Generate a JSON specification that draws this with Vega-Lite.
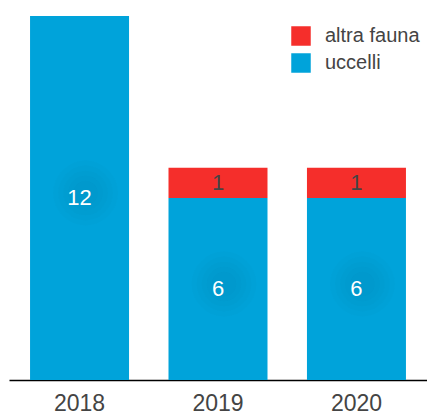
{
  "$schema": "https://vega.github.io/schema/vega-lite/v6.json",
  "width": 418,
  "height": 364,
  "autosize": {"type": "none"},
  "padding": {"left": 9, "top": 16, "right": 0, "bottom": 34},
  "background": "white",
  "config": {
    "view": {"stroke": null},
    "font": "Liberation Sans"
  },
  "data": {
    "values": [
      {"year": "2018", "category": "uccelli", "value": 12},
      {"year": "2019", "category": "uccelli", "value": 6},
      {"year": "2019", "category": "altra fauna", "value": 1},
      {"year": "2020", "category": "uccelli", "value": 6},
      {"year": "2020", "category": "altra fauna", "value": 1}
    ]
  },
  "encoding": {
    "x": {
      "field": "year",
      "type": "nominal",
      "scale": {"paddingInner": 0.285, "paddingOuter": 0.152},
      "axis": {
        "title": null,
        "labelAngle": 0,
        "labelFontSize": 23,
        "labelColor": "#444444",
        "labelPadding": 12,
        "ticks": false,
        "domainColor": "#000000",
        "domainWidth": 1.3
      }
    },
    "y": {
      "field": "value",
      "type": "quantitative",
      "stack": "zero",
      "scale": {"domain": [0, 12], "nice": false},
      "axis": null
    },
    "order": {"field": "category", "sort": "descending"}
  },
  "layer": [
    {
      "mark": {"type": "bar"},
      "encoding": {
        "color": {
          "field": "category",
          "type": "nominal",
          "scale": {"domain": ["altra fauna", "uccelli"], "range": ["#F52E2B", "#00A3DA"]},
          "legend": {
            "title": null,
            "orient": "none",
            "legendX": 282,
            "legendY": 10,
            "padding": 0,
            "symbolType": "square",
            "symbolSize": 380,
            "symbolStrokeWidth": 0,
            "symbolOpacity": 1,
            "labelFontSize": 20,
            "labelColor": "#444444",
            "labelOffset": 14,
            "rowPadding": 7
          }
        }
      }
    },
    {
      "transform": [{"filter": "datum.category === 'uccelli'"}],
      "mark": {"type": "point", "filled": true, "color": "#00557f", "opacity": 0.02, "size": 4200, "xOffset": 6, "yOffset": -5},
      "encoding": {
        "y": {"field": "value", "type": "quantitative", "stack": "zero", "bandPosition": 0.5}
      }
    },
    {
      "transform": [{"filter": "datum.category === 'uccelli'"}],
      "mark": {"type": "point", "filled": true, "color": "#00557f", "opacity": 0.02, "size": 3000, "xOffset": 6, "yOffset": -5},
      "encoding": {
        "y": {"field": "value", "type": "quantitative", "stack": "zero", "bandPosition": 0.5}
      }
    },
    {
      "transform": [{"filter": "datum.category === 'uccelli'"}],
      "mark": {"type": "point", "filled": true, "color": "#00557f", "opacity": 0.02, "size": 2000, "xOffset": 6, "yOffset": -5},
      "encoding": {
        "y": {"field": "value", "type": "quantitative", "stack": "zero", "bandPosition": 0.5}
      }
    },
    {
      "transform": [{"filter": "datum.category === 'uccelli'"}],
      "mark": {"type": "point", "filled": true, "color": "#00557f", "opacity": 0.025, "size": 1200, "xOffset": 6, "yOffset": -5},
      "encoding": {
        "y": {"field": "value", "type": "quantitative", "stack": "zero", "bandPosition": 0.5}
      }
    },
    {
      "transform": [{"filter": "datum.category === 'uccelli'"}],
      "mark": {"type": "point", "filled": true, "color": "#00557f", "opacity": 0.025, "size": 600, "xOffset": 6, "yOffset": -5},
      "encoding": {
        "y": {"field": "value", "type": "quantitative", "stack": "zero", "bandPosition": 0.5}
      }
    },
    {
      "mark": {"type": "text", "fontSize": 22, "baseline": "middle", "align": "center"},
      "encoding": {
        "y": {"field": "value", "type": "quantitative", "stack": "zero", "bandPosition": 0.5},
        "text": {"field": "value", "type": "quantitative"},
        "color": {
          "condition": {"test": "datum.category === 'uccelli'", "value": "#ffffff"},
          "value": "#444444"
        }
      }
    }
  ]
}
